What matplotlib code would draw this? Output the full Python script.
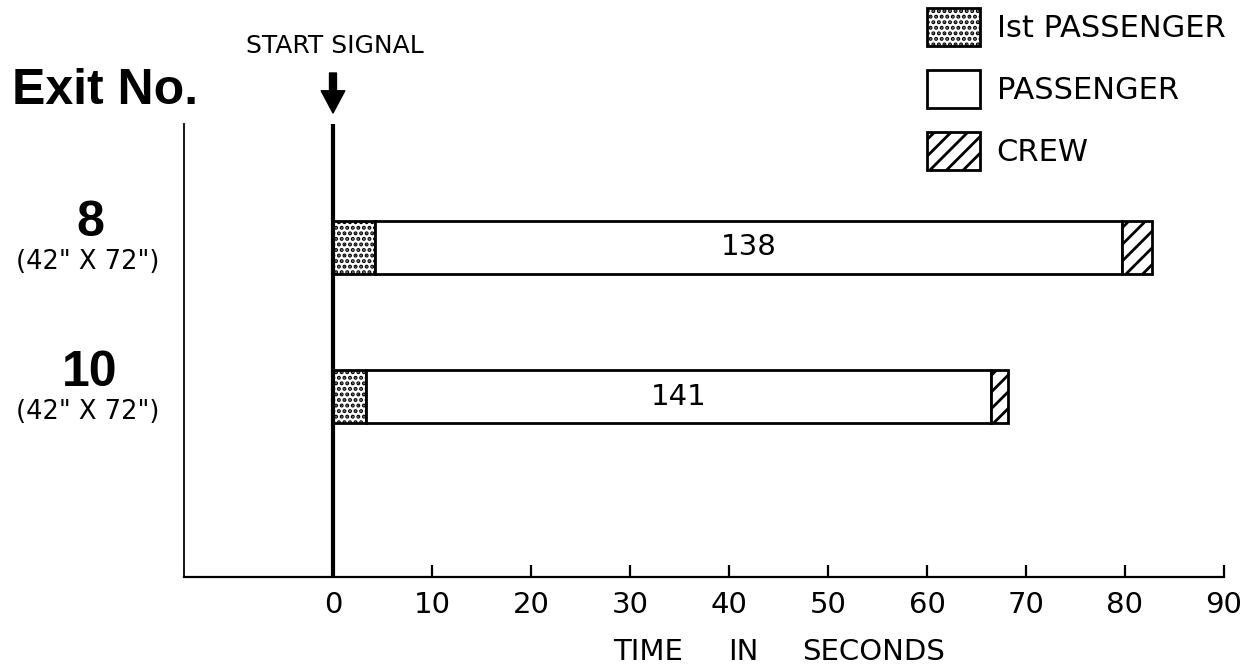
import matplotlib
matplotlib.use("Agg")
import matplotlib.pyplot as plt
from matplotlib.patches import Patch

# ---- data ----
exits = ["8", "10"]
exit_sizes = ['(42" X 72")', '(42" X 72")']
first_passenger_end = [4.2, 3.3]      # seconds
passenger_end = [79.7, 66.5]          # seconds
crew_end = [82.7, 68.2]               # seconds
passenger_counts = [138, 141]
xticks = [0, 10, 20, 30, 40, 50, 60, 70, 80, 90]
series_labels = ["Ist PASSENGER", "PASSENGER", "CREW"]

plt.rcParams["hatch.linewidth"] = 2.0
plt.rcParams["font.family"] = ["DejaVu Sans"]

W, H = 1254, 671
fig = plt.figure(figsize=(W / 100, H / 100), dpi=100, facecolor="white")


def fx(px):
    return px / W


def fy(py):
    return 1 - py / H


ax = fig.add_axes([fx(184), fy(577), fx(1224) - fx(184), fy(124) - fy(577)])
ax.set_xlim(-15.05, 90)
ax.set_ylim(-0.207, 2.823)

ypos = [2, 1]
h = 0.355
pass_width = [p - f for p, f in zip(passenger_end, first_passenger_end)]
crew_width = [c - p for c, p in zip(crew_end, passenger_end)]

STIPPLE = "..."
STRIPES = "//"

ax.barh(ypos, first_passenger_end, height=h, left=0, color="white",
        edgecolor="black", hatch=STIPPLE, linewidth=2, zorder=3)
ax.barh(ypos, pass_width, height=h, left=first_passenger_end, color="white",
        edgecolor="black", linewidth=2, zorder=3)
ax.barh(ypos, crew_width, height=h, left=passenger_end, color="white",
        edgecolor="black", hatch=STRIPES, linewidth=2, zorder=3)

for y, f, p, n in zip(ypos, first_passenger_end, passenger_end, passenger_counts):
    ax.text((f + p) / 2, y, str(n), ha="center", va="center", fontsize=21, zorder=4)

# start signal line
ax.axvline(0, color="black", linewidth=3, zorder=5)

for s in ["top", "right"]:
    ax.spines[s].set_visible(False)
ax.spines["left"].set_linewidth(1.3)
ax.spines["bottom"].set_linewidth(1.6)
ax.set_yticks([])
ax.set_xticks(xticks)
ax.set_xticklabels([str(t) for t in xticks])
ax.tick_params(axis="x", direction="in", length=9, width=1.6, pad=10, labelsize=21)

# x-axis title words
fig.text(fx(648), fy(652), "TIME", ha="center", va="center", fontsize=21)
fig.text(fx(743), fy(652), "IN", ha="center", va="center", fontsize=21)
fig.text(fx(874), fy(652), "SECONDS", ha="center", va="center", fontsize=21)

# y labels
fig.text(fx(12), fy(91), "Exit No.", ha="left", va="center", fontsize=36,
         fontweight="bold", family="Liberation Sans")
for y, e, s in zip(ypos, exits, exit_sizes):
    ax.annotate(e, xy=(0, y), xycoords=("figure fraction", "data"),
                xytext=(90, 24), textcoords=("figure pixels", "offset pixels"),
                ha="center", va="center", fontsize=36, fontweight="bold",
                family="Liberation Sans", annotation_clip=False)
    ax.annotate(s, xy=(0, y), xycoords=("figure fraction", "data"),
                xytext=(88, -15), textcoords=("figure pixels", "offset pixels"),
                ha="center", va="center", fontsize=18.5, annotation_clip=False)

# start signal
fig.text(fx(335), fy(46), "START SIGNAL", ha="center", va="center", fontsize=18)
ax.annotate("", xy=(0, H - 113), xycoords=("data", "figure pixels"),
            xytext=(0, H - 73), textcoords=("data", "figure pixels"),
            arrowprops=dict(facecolor="black", edgecolor="black", width=5,
                            headwidth=17, headlength=16, shrink=0),
            annotation_clip=False)

# legend
handles = [
    Patch(facecolor="white", edgecolor="black", hatch=STIPPLE, linewidth=2),
    Patch(facecolor="white", edgecolor="black", linewidth=2),
    Patch(facecolor="white", edgecolor="black", hatch=STRIPES, linewidth=2),
]
fig.legend(handles, series_labels, loc="upper left",
           bbox_to_anchor=(fx(927), fy(8)), bbox_transform=fig.transFigure,
           frameon=False, fontsize=22, borderpad=0, borderaxespad=0,
           handlelength=1.73, handleheight=1.55, labelspacing=0.78,
           handletextpad=0.55)

fig.savefig("out.png", dpi=100, facecolor="white")
